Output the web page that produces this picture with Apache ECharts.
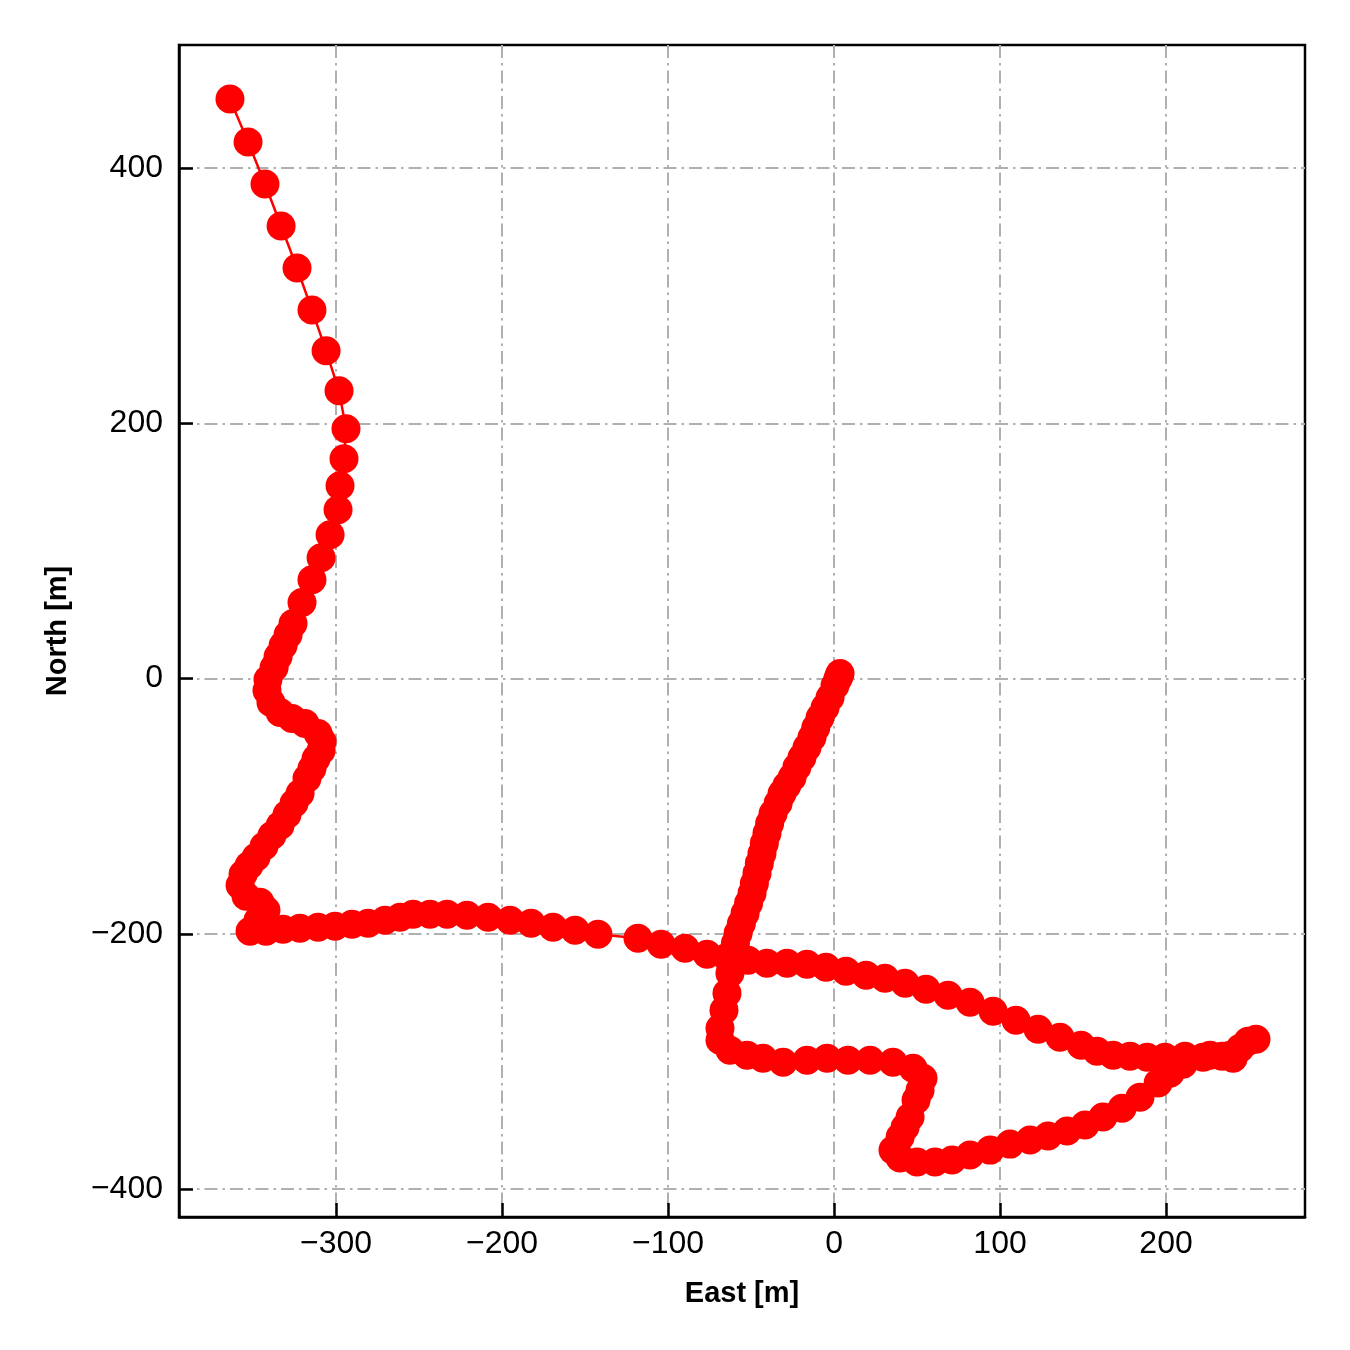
<!DOCTYPE html>
<html>
<head>
<meta charset="utf-8">
<script src="https://cdn.jsdelivr.net/npm/echarts@6/dist/echarts.min.js"></script>
<style>html,body{margin:0;padding:0;background:#fff}#c{width:1350px;height:1350px}</style>
</head>
<body>
<div id="c"></div>
<script>
// Trajectory (East, North) in metres, in order of travel
const east = [
  3.6, 3.0, 2.4, 0.6, -2.4, -5.4, -8.4, -11.0, -13.3, -16.3, -19.3, -22.4, -25.3, -28.5, -31.3, -33.7, -36.7, -38.8, -40.4, -42.0, -43.4, -45.0, -46.4, -48.0, -49.4, -51.5, -53.6, -55.8, -57.8, -59.4, -60.8,
  -62.7, -64.5, -66.3, -68.7, -68.7, -62.7, -52.4, -42.8, -30.7, -16.3, -4.2, 8.4, 21.7, 35.5, 47.6, 53.6, 51.8, 49.4, 45.8, 42.8,
  39.8, 35.5, 39.8, 50.0, 60.8, 71.1, 81.9, 94.0, 106.0, 118.1, 128.9, 140.4, 151.2, 162.0, 173.5, 184.3, 195.2, 202.4, 210.2, 222.3,
  233.7, 240.4, 244.6, 249.4, 254.2, 238.6, 226.5, 211.4, 199.4, 188.6, 178.3, 168.1, 158.4, 148.8, 136.1, 122.9, 109.6, 95.8, 81.9, 68.7,
  55.4, 42.8, 30.7, 19.3, 7.2, -4.8, -16.3, -28.3, -40.4, -51.8, -64.5, -76.5, -89.8, -104.2, -118.1, -142.2, -156.0, -169.3, -182.5, -195.2,
  -208.4, -221.1, -233.1, -243.4, -253.6, -261.4, -270.5, -280.7, -290.4, -300.6, -310.8, -321.7, -331.9, -342.2, -351.8, -347.0, -342.2, -345.8, -354.2, -357.8,
  -356.0, -352.4, -348.2, -343.4, -338.6, -333.7, -329.5, -325.3, -321.7, -317.5, -314.5, -312.0, -309.0, -308.4, -310.8, -318.7, -326.5, -333.7, -339.2, -341.6,
  -341.0, -337.3, -334.9, -331.9, -328.9, -325.9, -320.5, -314.5, -309.0, -303.6, -298.8, -297.6, -295.2, -294.0, -298.2, -306.0, -314.5, -323.5, -333.1, -342.8,
  -353.0, -363.9
];
const north = [
  3.9, 2.0, 0.0, -5.5, -14.9, -22.7, -30.5, -38.5, -46.2, -54.0, -61.8, -69.5, -77.5, -84.0, -90.0, -97.8, -105.7, -113.5, -121.3, -129.0, -137.0, -144.8, -152.6, -160.5, -168.3, -176.0, -184.0, -192.0, -199.6, -207.5, -215.3,
  -230.9, -246.6, -259.9, -274.0, -283.4, -291.2, -295.1, -297.5, -300.6, -299.0, -297.5, -299.0, -299.0, -300.6, -305.3, -313.1, -322.5, -330.3, -343.6, -351.5,
  -359.3, -369.5, -375.7, -378.9, -378.9, -377.3, -373.4, -369.5, -364.8, -361.6, -358.5, -354.6, -349.9, -343.6, -336.6, -328.0, -317.0, -309.2, -302.2, -296.7,
  -295.9, -297.5, -289.6, -284.1, -282.6, -295.1, -295.1, -295.9, -296.7, -296.7, -295.9, -295.1, -292.0, -287.3, -281.0, -274.8, -267.7, -260.7, -253.6, -248.1,
  -243.4, -238.7, -234.8, -232.5, -229.4, -226.2, -223.9, -223.1, -223.1, -220.7, -218.4, -216.0, -211.4, -208.2, -203.5, -200.4, -197.3, -194.9, -191.8, -189.4,
  -187.1, -185.5, -184.7, -184.7, -184.7, -187.1, -189.4, -191.8, -192.6, -194.1, -194.9, -195.7, -196.5, -198.0, -198.0, -189.4, -181.6, -175.3, -170.6, -162.0,
  -153.4, -146.4, -140.1, -131.5, -122.9, -115.1, -106.5, -97.8, -90.0, -78.3, -70.5, -62.6, -56.4, -49.3, -43.1, -35.2, -31.3, -26.6, -18.8, -9.4,
  -0.8, 8.6, 17.2, 25.8, 34.4, 43.1, 59.5, 77.5, 94.7, 112.7, 132.3, 151.1, 172.2, 195.7, 225.4, 256.8, 288.8, 321.7, 354.6, 387.5,
  420.4, 454.0
];
const xTicks = [-300, -200, -100, 0, 100, 200];
const yTicks = [-400, -200, 0, 200, 400];
const xTitle = 'East [m]';
const yTitle = 'North [m]';

const points = east.map((e, i) => [e, north[i]]);
const FONT = '"Liberation Sans", Arial, Helvetica, sans-serif';
const fmt = v => String(v).replace('-', '\u2212');
const gridLine = { show: true, lineStyle: { color: '#b0b0b0', width: 2, type: [13, 5, 2.5, 5] } };

const chart = echarts.init(document.getElementById('c'), null, { renderer: 'canvas' });
chart.setOption({
  animation: false,
  backgroundColor: '#fff',
  grid: { left: 179, top: 45, width: 1126, height: 1172, show: true, borderColor: '#000', borderWidth: 2.5, backgroundColor: 'transparent' },
  xAxis: {
    type: 'value', min: -394.6, max: 283.7,
    name: xTitle, nameLocation: 'middle', nameGap: 62,
    nameTextStyle: { fontFamily: FONT, fontSize: 29, fontWeight: 'bold', color: '#000' },
    axisLine: { show: true, onZero: false, lineStyle: { color: '#000', width: 2.5 } },
    axisTick: { show: true, inside: true, length: 14, lineStyle: { color: '#000', width: 2.5 }, customValues: xTicks },
    axisLabel: { customValues: xTicks, formatter: fmt, fontFamily: FONT, fontSize: 32, color: '#000', margin: 11 },
    splitLine: gridLine
  },
  yAxis: {
    type: 'value', min: -421.9, max: 496.4,
    name: yTitle, nameLocation: 'middle', nameGap: 107, nameRotate: 90,
    nameTextStyle: { fontFamily: FONT, fontSize: 29, fontWeight: 'bold', color: '#000' },
    axisLine: { show: true, onZero: false, lineStyle: { color: '#000', width: 2.5 } },
    axisTick: { show: true, inside: true, length: 14, lineStyle: { color: '#000', width: 2.5 }, customValues: yTicks },
    axisLabel: { customValues: yTicks, formatter: fmt, fontFamily: FONT, fontSize: 32, color: '#000', margin: 16 },
    splitLine: gridLine
  },
  series: [{
    type: 'line',
    data: points,
    symbol: 'circle',
    symbolSize: 29,
    showAllSymbol: true,
    itemStyle: { color: '#ff0000', borderWidth: 0 },
    lineStyle: { color: '#ff0000', width: 2.5 },
    z: 3
  }]
});
</script>
</body>
</html>
